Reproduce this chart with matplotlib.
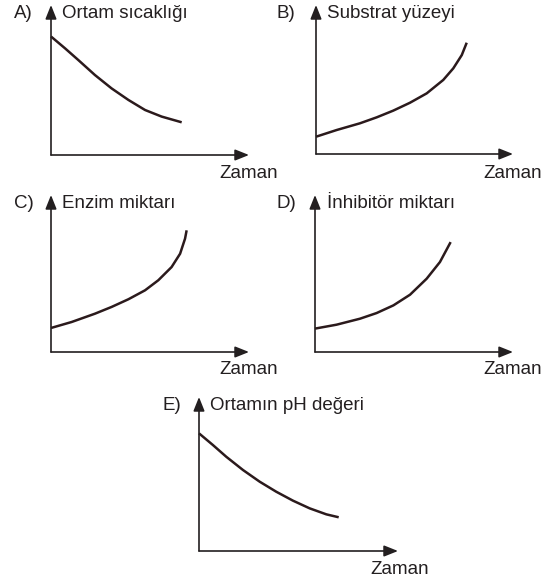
import matplotlib.pyplot as plt

plt.rcParams['font.family'] = ['Liberation Sans', 'DejaVu Sans']

W, H = 554, 583
INK = '#231f20'

# panel letters, y-axis titles
letters = ['A)', 'B)', 'C)', 'D)', 'E)']
titles = ['Ortam sıcaklığı', 'Substrat yüzeyi', 'Enzim miktarı',
          'İnhibitör miktarı', 'Ortamın pH değeri']
x_label = 'Zaman'

# curves (time 0-10, value 0-10)
a_x = [0, 0.71, 1.38, 2.22, 3.06, 3.91, 4.75, 5.59, 6.6]
a_y = [7.9, 7.11, 6.33, 5.33, 4.44, 3.67, 3.0, 2.56, 2.18]
b_x = [0, 1.05, 2.23, 3.08, 3.92, 4.77, 5.62, 6.46, 6.97, 7.4, 7.65]
b_y = [1.16, 1.61, 2.06, 2.46, 2.91, 3.44, 4.07, 4.97, 5.75, 6.64, 7.47]
c_x = [0, 1.04, 2.22, 3.06, 3.91, 4.75, 5.42, 6.09, 6.52, 6.77, 6.85]
c_y = [1.53, 1.91, 2.44, 2.87, 3.36, 3.93, 4.57, 5.41, 6.26, 7.22, 7.75]
d_x = [0, 1.09, 2.27, 3.11, 3.96, 4.8, 5.64, 6.31, 6.85]
d_y = [1.49, 1.74, 2.12, 2.48, 2.97, 3.65, 4.67, 5.73, 7.0]
e_x = [0, 0.7, 1.37, 2.21, 3.05, 3.88, 4.72, 5.56, 6.4, 7.02]
e_y = [7.64, 6.88, 6.12, 5.26, 4.5, 3.85, 3.27, 2.77, 2.38, 2.19]
curves = [(a_x, a_y), (b_x, b_y), (c_x, c_y), (d_x, d_y), (e_x, e_y)]

# layout in pixels: axes box (left, right, top, bottom), letter x, title x, label x/y
boxes = [(51, 249, 5, 155), (316, 513, 5, 154), (51, 249, 195, 352),
         (315, 513, 195, 352), (199, 398, 397, 551)]
letter_x = [14, 277, 14, 276, 163]
title_x = [62, 327, 62, 327, 210]
zaman_xy = [(219, 174), (483, 174), (219, 370), (483, 370), (370, 570)]

fig = plt.figure(figsize=(W / 100, H / 100), dpi=100)

for i in range(5):
    l, r, t, b = boxes[i]
    ax = fig.add_axes([l / W, 1 - b / H, (r - l) / W, (b - t) / H])
    ax.set_xlim(0, 10)
    ax.set_ylim(0, 10)
    ax.axis('off')
    ap = dict(arrowstyle='-|>,head_length=0.7,head_width=0.28', color=INK,
              lw=1.2, shrinkA=0, shrinkB=0, mutation_scale=12)
    ax.annotate('', xy=(0, 10), xytext=(0, 0), arrowprops=ap, annotation_clip=False)
    ax.annotate('', xy=(10, 0), xytext=(0, 0), arrowprops=ap, annotation_clip=False)
    cx, cy = curves[i]
    ax.plot(cx, cy, color='#2b1a1c', lw=1.8, solid_capstyle='butt',
            solid_joinstyle='round', clip_on=False)

    ty = t + 8
    fig.text(letter_x[i] / W, 1 - ty / H, letters[i], fontsize=13.5,
             color=INK, va='center', ha='left')
    fig.text(title_x[i] / W, 1 - ty / H, titles[i], fontsize=13.5,
             color=INK, va='center', ha='left')
    zx, zy = zaman_xy[i]
    fig.text(zx / W, 1 - zy / H, x_label, fontsize=13.5, color=INK,
             va='center', ha='left')

fig.savefig('out.png', dpi=100)
